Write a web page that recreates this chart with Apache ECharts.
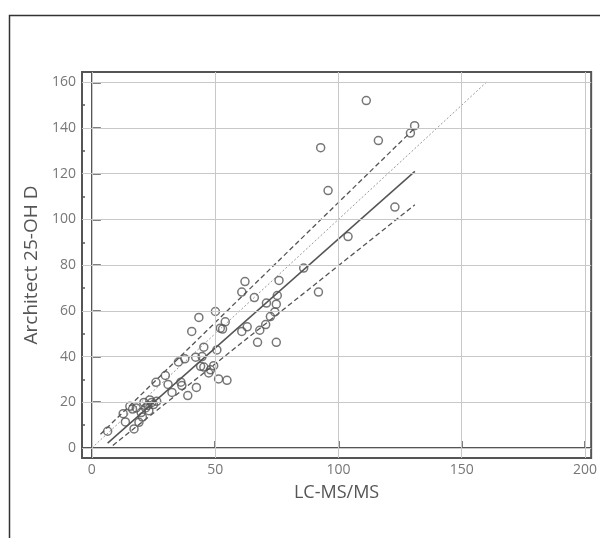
<!DOCTYPE html>
<html>
<head>
<meta charset="utf-8">
<script src="https://cdn.jsdelivr.net/npm/echarts@6/dist/echarts.min.js"></script>
<style>
html,body{margin:0;padding:0;background:#fff;}
#chart{width:600px;height:538px;}
</style>
</head>
<body>
<div id="chart"></div>
<script>
// LC-MS/MS (x) vs Architect 25-OH D (y)
const xValues = [6.4,12.7,13.6,15.4,17.1,18.0,19.1,21.1,21.8,22.7,23.1,24.3,26.0,26.3,29.8,30.9,32.5,35.1,36.1,36.5,37.7,38.9,40.5,42.4,43.4,42.1,44.7,45.4,44.1,45.4,47.4,48.1,49.4,50.1,50.7,51.4,52.1,53.0,54.1,54.8,60.8,63.0,68.1,70.5,62.1,60.8,75.9,65.9,75.2,70.8,74.8,74.2,72.4,67.2,74.8,85.9,91.9,103.9,95.8,92.8,111.3,116.2,122.9,129.2,130.9,16.5,20.0,23.5,25.0,20.5];
const yValues = [7.3,15.0,11.4,18.2,8.3,17.5,11.2,19.9,17.5,18.6,16.3,19.9,28.7,20.4,31.7,27.8,24.3,37.6,28.8,27.3,39.0,22.9,51.0,26.5,57.1,39.7,40.0,44.1,35.7,35.4,32.8,34.2,36.0,59.7,42.9,30.2,52.4,52.0,55.2,29.6,51.0,53.0,51.5,54.0,72.8,68.2,73.3,65.8,66.7,63.4,62.9,59.5,57.5,46.2,46.2,78.7,68.2,92.5,112.6,131.4,152.0,134.5,105.4,137.8,141.0,17.0,15.5,21.0,19.0,13.5];

// line endpoints (data units)
const identityX = [0, 160];
const identityY = [0, 160];
const regressionX = [6.4, 131];
const regressionY = [2.1, 121];
const upperX = [3.5, 131];
const upperY = [6.0, 140];
const lowerX = [8.5, 131];
const lowerY = [1.1, 106.4];

const xTicks = [0, 50, 100, 150, 200];
const yTicks = [0, 20, 40, 60, 80, 100, 120, 140, 160];
const yMinorTicks = [10, 30, 50, 70, 90, 110, 130, 150];

const zip = (a, b) => a.map((v, i) => [v, b[i]]);

const chart = echarts.init(document.getElementById('chart'), null, {renderer: 'canvas'});
const font = 'Open Sans';
const axisCol = '#555';

const option = {
  animation: false,
  backgroundColor: '#fff',
  graphic: [{
    type: 'rect', left: 7, top: 13, z: 0,
    shape: {x: 0, y: 0, width: 700, height: 600},
    style: {fill: 'none', stroke: '#333', lineWidth: 1.5}
  }],
  grid: {left: 82, right: 3, top: 72, bottom: 80, show: true, borderColor: axisCol, borderWidth: 2, backgroundColor: 'transparent'},
  xAxis: [{
    type: 'value', min: -4, max: 202.5,
    name: 'LC-MS/MS', nameLocation: 'middle', nameGap: 26,
    nameTextStyle: {fontFamily: font, fontSize: 18, color: '#555'},
    axisLine: {show: true, lineStyle: {color: axisCol, width: 2}},
    axisTick: {show: true, inside: true, length: 7, customValues: xTicks, lineStyle: {color: axisCol, width: 1.5}},
    axisLabel: {customValues: xTicks, fontFamily: font, fontSize: 14, color: '#777', margin: 5},
    splitLine: {show: false}
  }],
  yAxis: [{
    type: 'value', min: -4.4, max: 164.5,
    name: 'Architect 25-OH D', nameLocation: 'middle', nameGap: 39,
    nameTextStyle: {fontFamily: font, fontSize: 19, color: '#555'},
    axisLine: {show: true, lineStyle: {color: axisCol, width: 2}},
    axisTick: {show: true, inside: true, length: 9, customValues: yTicks, lineStyle: {color: axisCol, width: 1.5}},
    axisLabel: {customValues: yTicks, fontFamily: font, fontSize: 14, color: '#777', margin: 6},
    splitLine: {show: false}
  }, {
    type: 'value', min: -4.4, max: 164.5, position: 'left', offset: 0,
    axisLine: {show: false},
    axisTick: {show: true, inside: true, length: 3, customValues: yMinorTicks, lineStyle: {color: axisCol, width: 1.5}},
    axisLabel: {show: false},
    splitLine: {show: false}
  }],
  series: [
    {
      type: 'line', data: [], silent: true, z: 1, symbol: 'none',
      markLine: {
        silent: true, symbol: ['none', 'none'], label: {show: false}, animation: false,
        lineStyle: {color: '#c8c8c8', type: 'solid', width: 1},
        data: xTicks.map(v => ({xAxis: v})).concat(yTicks.map(v => ({yAxis: v})))
      }
    },
    {
      type: 'line', data: zip(identityX, identityY), showSymbol: false, symbol: 'none', z: 2,
      lineStyle: {color: '#999', width: 1, type: [2, 2]}
    },
    {
      type: 'line', data: zip(upperX, upperY), showSymbol: false, symbol: 'none', z: 2,
      lineStyle: {color: '#555', width: 1.3, type: [5, 3]}
    },
    {
      type: 'line', data: zip(regressionX, regressionY), showSymbol: false, symbol: 'none', z: 2,
      lineStyle: {color: '#555', width: 1.5, type: 'solid'}
    },
    {
      type: 'line', data: zip(lowerX, lowerY), showSymbol: false, symbol: 'none', z: 2,
      lineStyle: {color: '#555', width: 1.3, type: [5, 3]}
    },
    {
      type: 'scatter', data: zip(xValues, yValues), symbol: 'circle', symbolSize: 8, z: 3,
      itemStyle: {color: 'rgba(255,255,255,0)', borderColor: '#555', borderWidth: 1.5}
    }
  ]
};
chart.setOption(option);
</script>
</body>
</html>
